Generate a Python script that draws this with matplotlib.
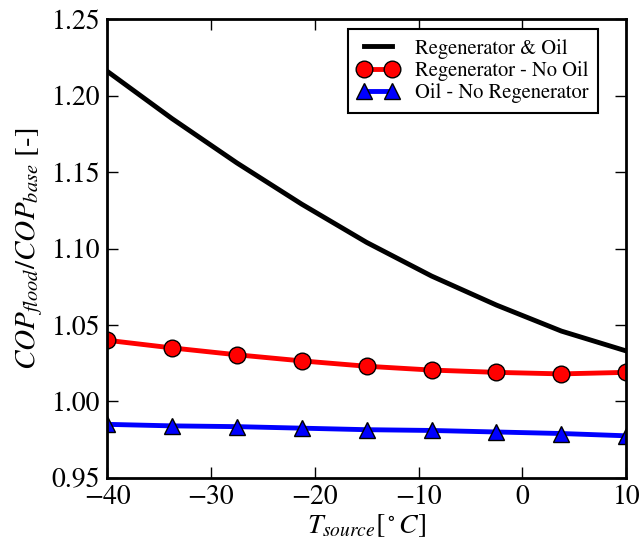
import matplotlib
matplotlib.use('Agg')
import matplotlib.pyplot as plt

# Шрифти як у старому стилі matplotlib (Times-подібні)
plt.rcParams['font.family'] = 'STIXGeneral'
plt.rcParams['mathtext.fontset'] = 'stix'

# Дані
t_source = [-40, -33.75, -27.5, -21.25, -15, -8.75, -2.5, 3.75, 10]
regen_oil = [1.216, 1.185, 1.156, 1.129, 1.104, 1.082, 1.063, 1.046, 1.033]
regen_no_oil = [1.040, 1.035, 1.0305, 1.0265, 1.023, 1.0205, 1.019, 1.018, 1.019]
oil_no_regen = [0.985, 0.984, 0.9835, 0.9825, 0.9815, 0.981, 0.980, 0.979, 0.9775]

fig = plt.figure(figsize=(6.41, 5.48), dpi=100)
ax = fig.add_axes([0.167, 0.128, 0.810, 0.837])

ax.plot(t_source, regen_oil, 'k-', linewidth=3.5, label='Regenerator & Oil')
ax.plot(t_source, regen_no_oil, 'r-', marker='o', markersize=12, markerfacecolor='r',
        markeredgecolor='k', markeredgewidth=1, linewidth=3.5, label='Regenerator - No Oil')
ax.plot(t_source, oil_no_regen, 'b-', marker='^', markersize=12, markerfacecolor='b',
        markeredgecolor='k', markeredgewidth=1, linewidth=3.5, label='Oil - No Regenerator')

ax.set_xlim(-40, 10)
ax.set_ylim(0.95, 1.25)
ax.set_xticks([-40, -30, -20, -10, 0, 10])
ax.set_yticks([0.95, 1.00, 1.05, 1.10, 1.15, 1.20, 1.25])
ax.set_yticklabels(['0.95', '1.00', '1.05', '1.10', '1.15', '1.20', '1.25'])
ax.tick_params(direction='in', length=8, width=1, top=True, right=True, labelsize=20, pad=5)
for s in ax.spines.values():
    s.set_linewidth(2)

ax.set_xlabel(r'$T_{source}\left[^\circ C\right]$', fontsize=20, labelpad=2)
ax.set_ylabel(r'$COP_{flood}/COP_{base}$ [-]', fontsize=21, labelpad=5)

leg = ax.legend(loc='upper right', bbox_to_anchor=(0.945, 0.978), numpoints=2, fontsize=14.8,
                fancybox=False, handlelength=2.0, borderpad=0.45, labelspacing=0.12,
                handletextpad=0.8, borderaxespad=0)
leg.get_frame().set_edgecolor('k')
leg.get_frame().set_linewidth(1.5)
leg.get_frame().set_alpha(1)

fig.savefig('out.png', dpi=100)
